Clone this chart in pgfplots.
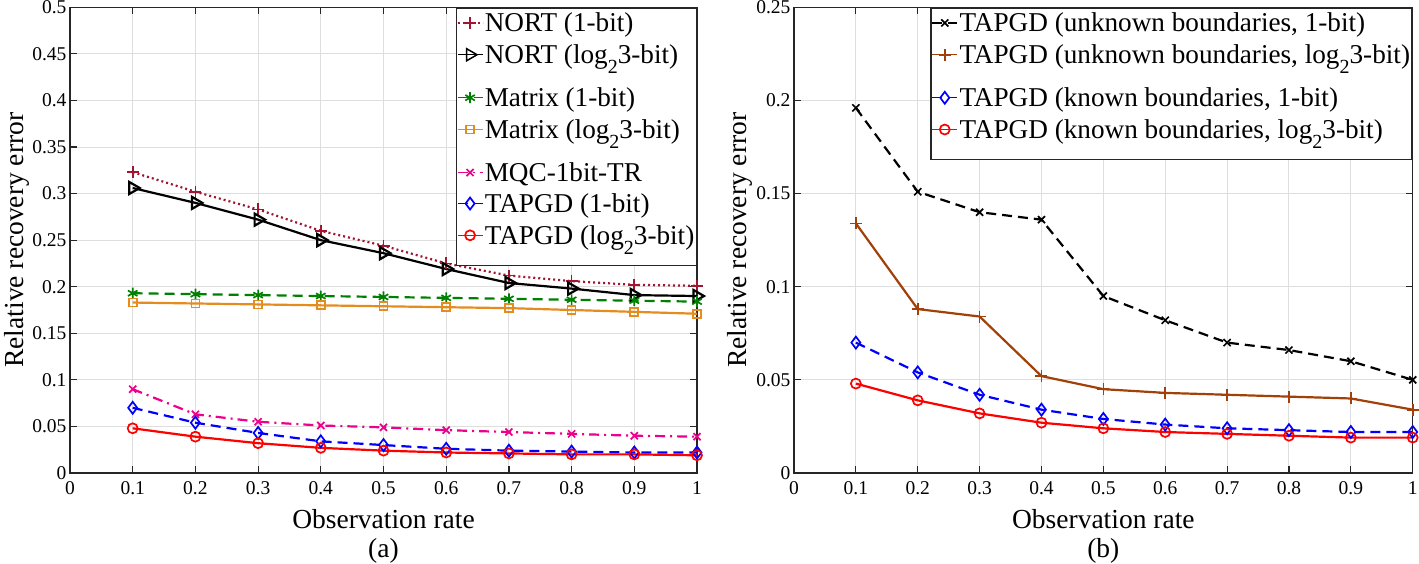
\documentclass[border=0pt]{standalone}
\usepackage{fontspec}
\setmainfont{Liberation Serif}
\usepackage{pgfplots}
\pgfplotsset{compat=1.18}
\newcommand{\tickfont}{\fontsize{19.5bp}{23bp}\selectfont}
\newcommand{\labfont}{\fontsize{27.5bp}{32bp}\selectfont}
\newcommand{\legfont}{\fontsize{27.2bp}{32bp}\selectfont}
\newcommand{\subtwo}{\raisebox{-10bp}{\fontsize{20bp}{20bp}\selectfont 2}}
\newcommand{\deep}{\rule[-17bp]{0pt}{17bp}}
\newcommand{\shal}{\rule[-5bp]{0pt}{5bp}}
\definecolor{nortred}{rgb}{0.635,0.078,0.184}
\definecolor{mgreen}{rgb}{0,0.5,0}
\definecolor{morange}{rgb}{0.90,0.55,0.12}
\definecolor{ubrown}{rgb}{0.63,0.25,0.03}
\pgfplotsset{
  myaxis/.style={
    scale only axis,
    height=465.7bp,
    xmin=0, xmax=1,
    xtick={0,0.1,0.2,0.3,0.4,0.5,0.6,0.7,0.8,0.9,1},
    xticklabels={0,0.1,0.2,0.3,0.4,0.5,0.6,0.7,0.8,0.9,1},
    scaled y ticks=false,
    yticklabel style={/pgf/number format/fixed,/pgf/number format/precision=3},
    /pgf/number format/assume math mode=true,
    tick label style={font=\tickfont},
    xticklabel style={yshift=-5bp},
    label style={font=\labfont},
    xlabel={Observation rate},
    ylabel={Relative recovery error},
    xlabel style={at={(axis description cs:0.5,-0.1188)},anchor=base},
    grid=major,
    major grid style={draw=black!13,line width=1bp},
    axis line style={draw=black!85,line width=1.5bp},
    tick style={draw=black!85,line width=1.2bp},
    major tick length=7bp,
    tick align=inside,
    tick pos=both,
    clip=false,
    legend style={at={(1,1)},anchor=north east,draw=black!85,line width=1.3bp,
      font=\legfont,inner xsep=0.5bp,inner ysep=1bp,
      cells={anchor=base west},
      nodes={inner xsep=1.5bp,inner ysep=3bp,text height=20bp,text depth=}},
    legend image code/.code={\draw[mark repeat=2,mark phase=2,##1,line width=1.5bp] plot coordinates {(0bp,9bp)(12.5bp,9bp)(25bp,9bp)};},
    every axis plot/.append style={line width=2.2bp,mark options={solid,line width=1.7bp}},
  },
  dashedl/.style={dash pattern=on 10bp off 6bp},
  dottedl/.style={dash pattern=on 2bp off 3bp},
  dashdotl/.style={dash pattern=on 10bp off 5bp on 2bp off 5bp},
}
\begin{document}
\begin{tikzpicture}
\path[use as bounding box] (0,0) rectangle (1419bp,564bp);
% ---------------- panel (a)
\begin{axis}[myaxis, at={(70bp,91bp)}, anchor=south west, width=627bp,
  ymin=0, ymax=0.5, ytick={0,0.05,0.1,0.15,0.2,0.25,0.3,0.35,0.4,0.45,0.5},
  ylabel style={at={(axis description cs:-0.074,0.5)},anchor=base}]
\addplot[nortred, dottedl, mark=+, mark size=6bp] coordinates {
(0.1,0.323)(0.2,0.302)(0.3,0.283)(0.4,0.260)(0.5,0.244)(0.6,0.225)(0.7,0.212)(0.8,0.206)(0.9,0.202)(1.0,0.201)};
\addlegendentry{NORT (1-bit)\shal}
\addplot[black, mark=triangle, mark size=7bp, mark options={rotate=-90,fill=white}] coordinates {
(0.1,0.306)(0.2,0.290)(0.3,0.272)(0.4,0.250)(0.5,0.236)(0.6,0.219)(0.7,0.204)(0.8,0.198)(0.9,0.191)(1.0,0.190)};
\addlegendentry{NORT (log\subtwo3-bit)\deep}
\addplot[mgreen, dashedl, mark=asterisk, mark size=5.5bp] coordinates {
(0.1,0.193)(0.2,0.192)(0.3,0.191)(0.4,0.190)(0.5,0.189)(0.6,0.188)(0.7,0.187)(0.8,0.186)(0.9,0.185)(1.0,0.184)};
\addlegendentry{Matrix (1-bit)\shal}
\addplot[morange, mark=square, mark size=4bp] coordinates {
(0.1,0.183)(0.2,0.182)(0.3,0.181)(0.4,0.180)(0.5,0.179)(0.6,0.178)(0.7,0.177)(0.8,0.175)(0.9,0.173)(1.0,0.171)};
\addlegendentry{Matrix (log\subtwo3-bit)\deep}
\addplot[magenta, dashdotl, mark=x, mark size=5bp] coordinates {
(0.1,0.090)(0.2,0.063)(0.3,0.055)(0.4,0.051)(0.5,0.049)(0.6,0.046)(0.7,0.044)(0.8,0.042)(0.9,0.040)(1.0,0.039)};
\addlegendentry{MQC-1bit-TR\shal}
\addplot[blue, dashedl, mark=diamond, mark size=6bp] coordinates {
(0.1,0.070)(0.2,0.054)(0.3,0.043)(0.4,0.034)(0.5,0.030)(0.6,0.026)(0.7,0.024)(0.8,0.023)(0.9,0.022)(1.0,0.022)};
\addlegendentry{TAPGD (1-bit)\shal}
\addplot[red, mark=o, mark size=5bp] coordinates {
(0.1,0.048)(0.2,0.039)(0.3,0.032)(0.4,0.027)(0.5,0.024)(0.6,0.022)(0.7,0.021)(0.8,0.020)(0.9,0.020)(1.0,0.019)};
\addlegendentry{TAPGD (log\subtwo3-bit)\deep}
\node[font=\labfont,anchor=base] at (axis description cs:0.5,-0.1804) {(a)};
\end{axis}
% ---------------- panel (b)
\begin{axis}[myaxis, at={(794bp,91bp)}, anchor=south west, width=618.7bp,
  ymin=0, ymax=0.25, ytick={0,0.05,0.1,0.15,0.2,0.25},
  ylabel style={at={(axis description cs:-0.076,0.5)},anchor=base}]
\addplot[black, dashedl, mark=x, mark size=5bp] coordinates {
(0.1,0.196)(0.2,0.151)(0.3,0.140)(0.4,0.136)(0.5,0.095)(0.6,0.082)(0.7,0.070)(0.8,0.066)(0.9,0.060)(1.0,0.050)};
\addlegendentry{TAPGD (unknown boundaries, 1-bit)\shal}
\addplot[ubrown, mark=+, mark size=6bp] coordinates {
(0.1,0.134)(0.2,0.088)(0.3,0.084)(0.4,0.052)(0.5,0.045)(0.6,0.043)(0.7,0.042)(0.8,0.041)(0.9,0.040)(1.0,0.034)};
\addlegendentry{TAPGD (unknown boundaries, log\subtwo3-bit)\deep}
\addplot[blue, dashedl, mark=diamond, mark size=6bp] coordinates {
(0.1,0.070)(0.2,0.054)(0.3,0.042)(0.4,0.034)(0.5,0.029)(0.6,0.026)(0.7,0.024)(0.8,0.023)(0.9,0.022)(1.0,0.022)};
\addlegendentry{TAPGD (known boundaries, 1-bit)\shal}
\addplot[red, mark=o, mark size=5bp] coordinates {
(0.1,0.048)(0.2,0.039)(0.3,0.032)(0.4,0.027)(0.5,0.024)(0.6,0.022)(0.7,0.021)(0.8,0.020)(0.9,0.019)(1.0,0.019)};
\addlegendentry{TAPGD (known boundaries, log\subtwo3-bit)\deep}
\node[font=\labfont,anchor=base] at (axis description cs:0.5,-0.1804) {(b)};
\end{axis}
\end{tikzpicture}
\end{document}
